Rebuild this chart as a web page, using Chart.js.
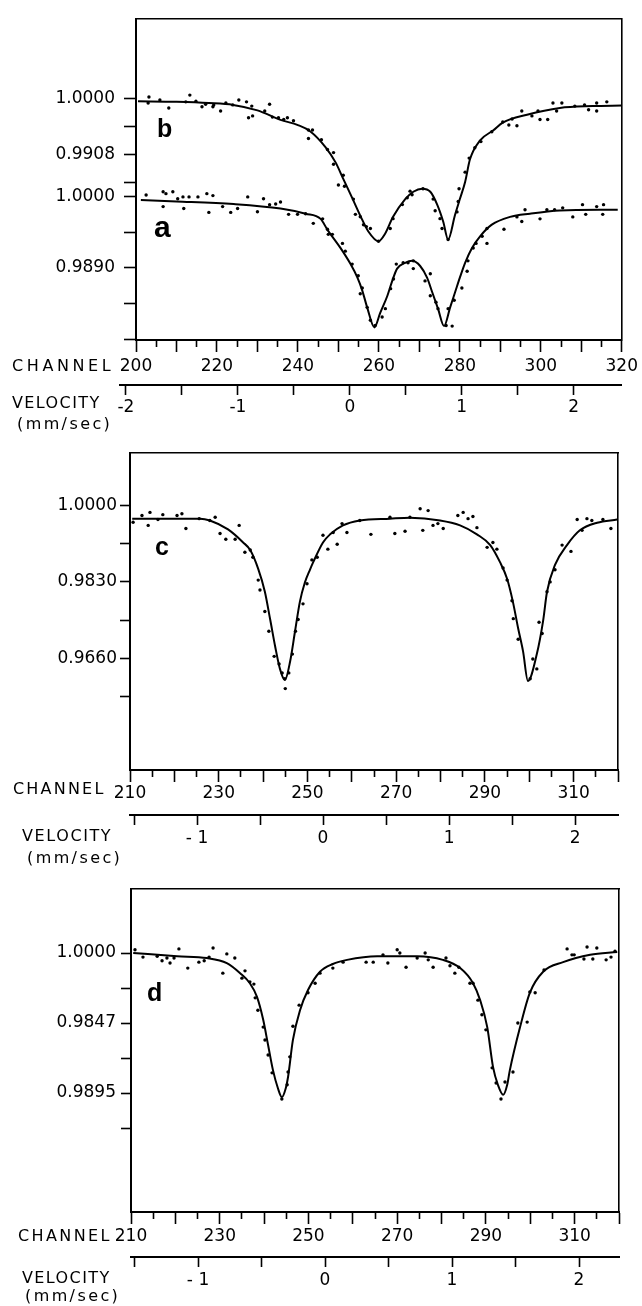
<!DOCTYPE html>
<html>
<head>
<meta charset="utf-8">
<title>Mossbauer spectra a-d</title>
<script src="https://cdn.jsdelivr.net/npm/chart.js@4.4.1/dist/chart.umd.min.js"></script>
<style>
  body { margin: 0; background: #fff; }
  #page { position: relative; width: 642px; height: 1306px; overflow: hidden; font-family: "DejaVu Sans", sans-serif; color: #000; }
  canvas { position: absolute; left: 0; }
  .axisname { position: absolute; font-size: 16px; line-height: 1; white-space: nowrap; transform: translateY(-50%); }
  .tag { position: absolute; font-family: "Liberation Sans", Arial, sans-serif; font-weight: bold; line-height: 1; transform: translateY(-50%); }
</style>
</head>
<body>
<div id="page">
  <canvas id="chartAB" width="642" height="440" style="top:0"></canvas>
  <canvas id="chartC" width="642" height="425" style="top:440px"></canvas>
  <canvas id="chartD" width="642" height="436" style="top:870px"></canvas>

  <div class="tag" style="left:157px;top:128px;font-size:25px">b</div>
  <div class="tag" style="left:154px;top:227px;font-size:30px">a</div>
  <div class="tag" style="left:155px;top:546px;font-size:25px">c</div>
  <div class="tag" style="left:147px;top:992px;font-size:25px">d</div>

  <div class="axisname" style="left:12px;top:366px;letter-spacing:3.6px">CHANNEL</div>
  <div class="axisname" style="left:12px;top:403px;letter-spacing:1.4px">VELOCITY</div>
  <div class="axisname" style="left:17px;top:424px;letter-spacing:2.4px">(mm/sec)</div>

  <div class="axisname" style="left:13px;top:789px;letter-spacing:2.2px">CHANNEL</div>
  <div class="axisname" style="left:22px;top:836px;letter-spacing:1.6px">VELOCITY</div>
  <div class="axisname" style="left:27px;top:858px;letter-spacing:2.4px">(mm/sec)</div>

  <div class="axisname" style="left:18px;top:1236px;letter-spacing:2.4px">CHANNEL</div>
  <div class="axisname" style="left:22px;top:1278px;letter-spacing:1.4px">VELOCITY</div>
  <div class="axisname" style="left:25px;top:1296px;letter-spacing:2.4px">(mm/sec)</div>
</div>

<script>
// ---- Panel a / b (top) ----
const abChannelLabels = [200, 220, 240, 260, 280, 300, 320];
const abVelocityTicks = [-2, -1.5, -1, -0.5, 0, 0.5, 1, 1.5, 2];
const abVelocityLabelAt = [-2, -1, 0, 1, 2];
const abVelocityLabels = ['-2', '-1', '0', '1', '2'];

const aTickValues = [1.0, 0.9945, 0.989, 0.9835, 0.978];
const aTickLabels = ['1.0000', '', '0.9890', '', ''];
const bTickValues = [1.0, 0.9954, 0.9908, 0.9862];
const bTickLabels = ['1.0000', '', '0.9908', ''];

const bFitChannel = [200.5, 210, 218, 224, 230, 235.7, 240, 243, 246.8, 249.3, 251.2, 253.4, 255.4, 257.4, 259.9, 261.5, 263.5, 266.5, 268.5, 270.7, 272.7, 274.4, 275.9, 277.1, 278.8, 280, 281.3, 282.5, 285, 288.2, 290.6, 296.6, 304.7, 312.8, 320];
const bFitValue = [0.9995, 0.9994, 0.9992, 0.9989, 0.9980, 0.99645, 0.9956, 0.9946, 0.9920, 0.9895, 0.9868, 0.9837, 0.9808, 0.9782, 0.9766, 0.9778, 0.9806, 0.9835, 0.9847, 0.9852, 0.9847, 0.9826, 0.9798, 0.9769, 0.9809, 0.9835, 0.9863, 0.9900, 0.9931, 0.9947, 0.9960, 0.9973, 0.9984, 0.9987, 0.9988];
const bDotChannel = [203.0, 203.2, 205.9, 208.1, 212.3, 213.3, 214.8, 216.3, 217.2, 219.0, 219.2, 220.9, 222.2, 223.9, 225.4, 227.3, 227.8, 228.6, 228.8, 231.8, 233.0, 233.7, 235.2, 236.5, 237.4, 238.9, 242.6, 242.6, 243.6, 245.8, 247.3, 248.8, 248.8, 250.0, 251.2, 251.5, 253.7, 254.2, 255.4, 256.2, 256.9, 257.9, 259.9, 262.8, 263.5, 265.8, 267.0, 267.7, 268.2, 270.9, 273.4, 273.9, 275.1, 275.6, 277.1, 279.3, 279.6, 279.8, 281.3, 282.3, 283.7, 285.2, 287.9, 290.6, 292.1, 292.9, 294.1, 295.3, 297.8, 299.3, 299.8, 301.7, 303.0, 303.9, 305.2, 308.4, 310.8, 311.8, 313.8, 313.8, 316.3];
const bDotValue = [0.9992, 1.0002, 0.9997, 0.9984, 0.9994, 1.0005, 0.9995, 0.9986, 0.9990, 0.9986, 0.9989, 0.9979, 0.9992, 0.9989, 0.9997, 0.9994, 0.9968, 0.9987, 0.9971, 0.9979, 0.9990, 0.9969, 0.9968, 0.9965, 0.9968, 0.9963, 0.9948, 0.9934, 0.9948, 0.9932, 0.9916, 0.9911, 0.9892, 0.9858, 0.9874, 0.9856, 0.9835, 0.9810, 0.9806, 0.9793, 0.9790, 0.9787, 0.9766, 0.9787, 0.9803, 0.9826, 0.9837, 0.9848, 0.9842, 0.9852, 0.9835, 0.9816, 0.9803, 0.9787, 0.9769, 0.9814, 0.9831, 0.9852, 0.9879, 0.9902, 0.9919, 0.9929, 0.9945, 0.9961, 0.9956, 0.9966, 0.9955, 0.9979, 0.9971, 0.9979, 0.9965, 0.9965, 0.9992, 0.9979, 0.9992, 0.9987, 0.9989, 0.9981, 0.9979, 0.9992, 0.9994];

const aFitChannel = [201.2, 210, 224.1, 235.7, 241.9, 245.6, 247.3, 250.5, 253.0, 254.7, 255.9, 257.1, 258.9, 260.3, 262.1, 263.3, 264.5, 266.5, 268.2, 270.2, 271.9, 273.2, 274.6, 276.1, 277.6, 278.8, 280.0, 281.3, 283.0, 285.0, 287.9, 292.4, 297.3, 304.7, 314.5, 319];
const aFitValue = [0.9995, 0.9993, 0.9989, 0.9982, 0.9974, 0.9966, 0.9949, 0.9921, 0.9896, 0.9875, 0.9855, 0.9829, 0.9798, 0.9820, 0.9847, 0.9870, 0.9889, 0.9898, 0.9901, 0.9893, 0.9875, 0.9852, 0.9827, 0.9800, 0.9829, 0.9852, 0.9875, 0.9898, 0.9921, 0.9939, 0.9957, 0.9969, 0.9974, 0.9979, 0.9980, 0.9980];
const aDotChannel = [202.5, 206.7, 206.7, 207.4, 209.1, 210.3, 211.6, 211.8, 213.1, 215.3, 217.5, 218.0, 219.0, 221.4, 223.4, 225.1, 227.6, 230.0, 231.5, 233.0, 234.5, 235.7, 237.7, 239.9, 241.9, 243.8, 246.1, 247.3, 247.5, 248.5, 251.0, 251.7, 253.4, 254.9, 255.4, 255.9, 257.1, 257.9, 259.1, 260.8, 261.6, 262.9, 263.6, 264.3, 266.0, 267.2, 268.5, 268.5, 271.4, 272.7, 272.7, 274.1, 274.6, 276.6, 277.1, 278.1, 278.6, 280.5, 281.8, 282.0, 283.3, 284.0, 285.5, 286.7, 286.7, 290.9, 294.1, 295.3, 296.1, 299.8, 301.5, 303.4, 305.4, 307.9, 310.3, 311.1, 313.8, 315.3, 315.5];
const aDotValue = [1.0003, 1.0008, 0.9985, 1.0005, 1.0008, 0.9997, 1.0000, 0.9982, 1.0000, 1.0000, 1.0005, 0.9976, 1.0002, 0.9985, 0.9976, 0.9982, 1.0000, 0.9977, 0.9997, 0.9988, 0.9989, 0.9992, 0.9973, 0.9973, 0.9974, 0.9959, 0.9966, 0.9950, 0.9942, 0.9942, 0.9928, 0.9916, 0.9896, 0.9878, 0.9850, 0.9859, 0.9829, 0.9809, 0.9801, 0.9814, 0.9827, 0.9858, 0.9873, 0.9896, 0.9898, 0.9898, 0.9901, 0.9889, 0.9870, 0.9881, 0.9847, 0.9837, 0.9827, 0.9801, 0.9827, 0.9800, 0.9840, 0.9859, 0.9885, 0.9901, 0.9921, 0.9928, 0.9939, 0.9951, 0.9928, 0.9950, 0.9969, 0.9962, 0.9980, 0.9966, 0.9980, 0.9980, 0.9983, 0.9969, 0.9988, 0.9973, 0.9985, 0.9973, 0.9988];

// ---- Panels c and d ----
const cdChannelLabels = [210, 230, 250, 270, 290, 310];
const cdVelocityTicks = [-1.5, -1, -0.5, 0, 0.5, 1, 1.5, 2];
const cdVelocityLabelAt = [-1, 0, 1, 2];
const cdVelocityLabels = ['- 1', '0', '1', '2'];

const cTickValues = [1.0, 0.9915, 0.983, 0.9745, 0.966, 0.9575];
const cTickLabels = ['1.0000', '', '0.9830', '', '0.9660', ''];
const dTickValues = [1.0, 0.99235, 0.9847, 0.97705, 0.9694, 0.96175];
const dTickLabels = ['1.0000', '', '0.9847', '', '0.9895', ''];

const cFitChannel = [210.5, 225.8, 228.0, 232.1, 235.5, 237.1, 238.9, 240.4, 241.6, 242.7, 243.8, 244.9, 246.1, 247.2, 248.3, 249.4, 250.6, 251.3, 253.5, 255.1, 258.0, 261.8, 268.6, 273.1, 279.9, 284.4, 288.2, 291.2, 293.4, 295.0, 296.3, 297.5, 298.6, 299.7, 301.7, 303.1, 304.0, 305.8, 308.5, 311.4, 315.3, 319.8];
const cFitValue = [0.9971, 0.9971, 0.9967, 0.9947, 0.9918, 0.9901, 0.9859, 0.9808, 0.9746, 0.9687, 0.9636, 0.9611, 0.9653, 0.9720, 0.9786, 0.9828, 0.9858, 0.9874, 0.9918, 0.9936, 0.9956, 0.9967, 0.9971, 0.9973, 0.9967, 0.9956, 0.9936, 0.9912, 0.9874, 0.9837, 0.9786, 0.9726, 0.9675, 0.9609, 0.9669, 0.9742, 0.9808, 0.9868, 0.9912, 0.9945, 0.9962, 0.9969];
const cDotChannel = [210.7, 212.7, 214.1, 214.5, 216.3, 217.4, 220.6, 221.7, 222.6, 225.6, 228.0, 229.2, 230.3, 231.6, 233.7, 234.6, 235.9, 237.1, 237.7, 238.9, 239.3, 240.4, 241.3, 242.5, 243.6, 244.3, 244.9, 245.0, 245.8, 246.6, 247.3, 247.9, 249.0, 249.9, 251.0, 252.2, 253.5, 254.6, 255.8, 256.7, 257.8, 258.9, 261.8, 264.3, 268.6, 269.7, 272.0, 273.1, 275.4, 276.0, 277.2, 278.3, 279.4, 280.6, 283.9, 285.1, 286.2, 287.3, 288.2, 290.5, 291.8, 292.7, 294.1, 295.0, 296.1, 296.4, 297.5, 300.2, 300.8, 301.7, 302.2, 302.9, 304.0, 304.7, 305.8, 307.4, 309.4, 310.8, 311.9, 313.0, 314.1, 316.6, 318.4];
const cDotValue = [0.9963, 0.9978, 0.9956, 0.9985, 0.9969, 0.9980, 0.9978, 0.9982, 0.9949, 0.9971, 0.9967, 0.9974, 0.9938, 0.9925, 0.9925, 0.9956, 0.9896, 0.9901, 0.9885, 0.9834, 0.9812, 0.9764, 0.9720, 0.9664, 0.9647, 0.9627, 0.9614, 0.9592, 0.9627, 0.9669, 0.9720, 0.9746, 0.9781, 0.9826, 0.9879, 0.9885, 0.9934, 0.9903, 0.9940, 0.9914, 0.9960, 0.9940, 0.9967, 0.9936, 0.9974, 0.9938, 0.9943, 0.9974, 0.9993, 0.9945, 0.9989, 0.9956, 0.9960, 0.9949, 0.9978, 0.9985, 0.9971, 0.9976, 0.9951, 0.9907, 0.9918, 0.9903, 0.9861, 0.9834, 0.9788, 0.9748, 0.9702, 0.9614, 0.9658, 0.9636, 0.9740, 0.9715, 0.9808, 0.9830, 0.9857, 0.9912, 0.9898, 0.9969, 0.9945, 0.9971, 0.9967, 0.9969, 0.9949];

const dFitChannel = [210.5, 220.4, 227.1, 231.6, 234.6, 236.8, 238.4, 239.8, 240.9, 242.0, 243.1, 244.0, 244.9, 245.4, 246.5, 248.1, 249.9, 252.6, 255.5, 258.7, 265.5, 274.5, 280.3, 284.2, 287.1, 288.7, 290.3, 291.6, 292.7, 293.9, 294.8, 295.4, 297.7, 299.9, 302.9, 307.4, 313.5, 319.6];
const dFitValue = [1.0000, 0.9993, 0.9989, 0.9978, 0.9956, 0.9934, 0.9904, 0.9854, 0.9799, 0.9744, 0.9705, 0.9685, 0.9705, 0.9729, 0.9810, 0.9875, 0.9919, 0.9959, 0.9976, 0.9985, 0.9993, 0.9993, 0.9985, 0.9967, 0.9934, 0.9897, 0.9838, 0.9751, 0.9712, 0.9690, 0.9712, 0.9744, 0.9838, 0.9913, 0.9959, 0.9980, 0.9996, 1.0002];
const dDotChannel = [210.9, 212.7, 215.9, 217.0, 218.1, 218.8, 219.7, 220.8, 222.8, 225.3, 226.5, 227.6, 228.5, 230.7, 231.6, 233.4, 235.0, 235.7, 236.8, 237.7, 238.0, 238.6, 239.8, 240.2, 240.9, 241.8, 244.0, 245.2, 245.4, 245.8, 246.5, 247.9, 249.9, 251.5, 252.6, 255.5, 257.8, 263.0, 264.6, 266.8, 267.9, 270.0, 270.6, 272.0, 274.5, 276.3, 277.0, 278.1, 281.0, 281.9, 283.0, 283.9, 286.4, 287.1, 288.2, 289.1, 290.0, 291.4, 292.3, 293.4, 294.3, 296.1, 297.2, 299.3, 299.9, 301.1, 303.1, 308.3, 309.4, 309.9, 312.1, 312.8, 314.1, 315.0, 317.1, 318.2, 319.1];
const dDotValue = [1.0007, 0.9991, 0.9993, 0.9983, 0.9989, 0.9978, 0.9989, 1.0009, 0.9967, 0.9980, 0.9983, 0.9991, 1.0011, 0.9956, 0.9998, 0.9989, 0.9945, 0.9961, 0.9937, 0.9932, 0.9902, 0.9875, 0.9838, 0.9810, 0.9777, 0.9738, 0.9681, 0.9712, 0.9740, 0.9773, 0.9840, 0.9886, 0.9913, 0.9934, 0.9956, 0.9967, 0.9980, 0.9980, 0.9980, 0.9996, 0.9978, 1.0007, 1.0000, 0.9969, 0.9989, 1.0000, 0.9985, 0.9969, 0.9989, 0.9972, 0.9956, 0.9969, 0.9934, 0.9934, 0.9897, 0.9865, 0.9832, 0.9749, 0.9716, 0.9681, 0.9718, 0.9740, 0.9847, 0.9849, 0.9915, 0.9913, 0.9963, 1.0009, 0.9996, 0.9996, 0.9987, 1.0013, 0.9987, 1.0011, 0.9985, 0.9991, 1.0004];

// Axis ranges (a on the visible axis, b on a hidden one sharing the same plot)
const A_RANGE = [0.97785, 1.0275];
const B_RANGE = [0.96046, 1.01291];

const black = '#000';
const tickFont = { family: 'DejaVu Sans', size: 17 };

function pts(ch, val) {
    return ch.map((c, i) => ({ x: c, y: val[i] }));
}

function dotSet(ch, val, axis) {
    return { type: 'scatter', data: pts(ch, val), yAxisID: axis, pointRadius: 1.7,
             pointBackgroundColor: black, pointBorderWidth: 0, showLine: false };
}

function fitSet(ch, val, axis) {
    return { type: 'line', data: pts(ch, val), yAxisID: axis, borderColor: black, borderWidth: 2,
             pointRadius: 0, cubicInterpolationMode: 'monotone', fill: false };
}

function tickList(vals, labels) {
    return vals.map((v, i) => ({ value: v, lbl: labels[i] }));
}

// b tick values expressed on the a axis
function bToA(v) {
    return A_RANGE[0] + (v - B_RANGE[0]) * (A_RANGE[1] - A_RANGE[0]) / (B_RANGE[1] - B_RANGE[0]);
}

// lets the velocity axis line start a bit left of the frame (panel a/b only)
const stretchVelocity = {
    id: 'stretchVelocity',
    afterLayout(chart, args, opts) {
        if (!opts.left) return;
        const s = chart.scales.vel;
        s.left -= opts.left;
        s.width += opts.left;
        s.configure();
    }
};

function drawPanel(canvasId, p) {
    const scales = {
        x: {
            type: 'linear', position: 'bottom', weight: 0, min: p.chMin, max: p.chMax,
            afterFit: s => { s.height = p.chHeight; },
            ticks: { stepSize: 5, autoSkip: false, maxRotation: 0, padding: p.chPad, color: black, font: tickFont,
                     callback: v => p.chLabels.includes(v) ? String(v) : '' },
            grid: { drawOnChartArea: false, tickLength: 12, tickWidth: 1.6, tickColor: black,
                    tickBorderDash: c => (c.tick && c.tick.value % 10 !== 0) ? [6, 30] : [] },
            border: { color: black, width: 2 }
        },
        vel: {
            type: 'linear', position: 'bottom', weight: 1, min: p.velMin, max: p.velMax,
            afterFit: s => { s.height = p.velHeight; },
            afterBuildTicks: s => { s.ticks = p.velTicks.map(v => ({ value: v })); },
            ticks: { autoSkip: false, maxRotation: 0, padding: p.velPad, color: black, font: tickFont,
                     callback: v => { const k = p.velLabelAt.indexOf(v); return k < 0 ? '' : p.velLabels[k]; } },
            grid: { drawOnChartArea: false, tickLength: 10, tickWidth: 1.6, tickColor: black },
            border: { color: black, width: 2 }
        },
        xTop: {
            type: 'linear', position: 'top', min: p.chMin, max: p.chMax,
            afterFit: s => { s.height = 0; },
            ticks: { display: false },
            grid: { drawOnChartArea: false, drawTicks: false },
            border: { color: black, width: 1.6 }
        },
        y: {
            type: 'linear', position: 'left', min: p.yMin, max: p.yMax,
            afterFit: s => { s.width = p.yWidth; },
            afterBuildTicks: s => { s.ticks = p.yTicks.slice().sort((m, n) => m.value - n.value).map(t => ({ value: t.value, lbl: t.lbl })); },
            ticks: { autoSkip: false, padding: p.yPad, color: black, font: tickFont,
                     callback: (v, i, ticks) => ticks[i].lbl },
            grid: { drawOnChartArea: false, tickLength: p.yTick, tickWidth: 1.6, tickColor: black },
            border: { color: black, width: 2 }
        },
        yRight: {
            type: 'linear', position: 'right', min: p.yMin, max: p.yMax,
            afterFit: s => { s.width = 0; },
            ticks: { display: false },
            grid: { drawOnChartArea: false, drawTicks: false },
            border: { color: black, width: 1.6 }
        }
    };
    if (p.yb) {
        scales.yb = { type: 'linear', display: false, min: p.yb[0], max: p.yb[1] };
    }

    return new Chart(document.getElementById(canvasId), {
        type: 'scatter',
        data: { datasets: p.datasets },
        options: {
            responsive: false,
            animation: false,
            events: [],
            layout: { padding: { top: p.padTop, right: p.padRight, left: 0, bottom: 0 } },
            plugins: {
                legend: { display: false },
                tooltip: { enabled: false },
                stretchVelocity: { left: p.velExtend || 0 }
            },
            scales: scales
        },
        plugins: [stretchVelocity]
    });
}

Chart.defaults.font.family = 'DejaVu Sans';
Chart.defaults.color = black;

// Panel a / b
drawPanel('chartAB', {
    chMin: 200, chMax: 320, chLabels: abChannelLabels, chHeight: 45, chPad: 4,
    velMin: -2.053, velMax: 2.43, velTicks: abVelocityTicks, velLabelAt: abVelocityLabelAt,
    velLabels: abVelocityLabels, velHeight: 55, velPad: 2, velExtend: 16,
    yMin: A_RANGE[0], yMax: A_RANGE[1], yb: B_RANGE, yWidth: 136, yPad: 9, yTick: 12,
    yTicks: tickList(aTickValues, aTickLabels).concat(bTickValues.map((v, i) => ({ value: bToA(v), lbl: bTickLabels[i] }))),
    padTop: 15, padRight: 19,
    datasets: [
        fitSet(bFitChannel, bFitValue, 'yb'),
        dotSet(bDotChannel, bDotValue, 'yb'),
        fitSet(aFitChannel, aFitValue, 'y'),
        dotSet(aDotChannel, aDotValue, 'y')
    ]
});

// Panel c
drawPanel('chartC', {
    chMin: 210, chMax: 320, chLabels: cdChannelLabels, chHeight: 45, chPad: 1,
    velMin: -1.532, velMax: 2.341, velTicks: cdVelocityTicks, velLabelAt: cdVelocityLabelAt,
    velLabels: cdVelocityLabels, velHeight: 50, velPad: 3,
    yMin: 0.94105, yMax: 1.0117, yWidth: 130, yPad: 3, yTick: 10,
    yTicks: tickList(cTickValues, cTickLabels),
    padTop: 10, padRight: 24,
    datasets: [
        fitSet(cFitChannel, cFitValue, 'y'),
        dotSet(cDotChannel, cDotValue, 'y')
    ]
});

// Panel d
drawPanel('chartD', {
    chMin: 210, chMax: 320, chLabels: cdChannelLabels, chHeight: 45, chPad: 2,
    velMin: -1.528, velMax: 2.315, velTicks: cdVelocityTicks, velLabelAt: cdVelocityLabelAt,
    velLabels: cdVelocityLabels, velHeight: 49, velPad: 3,
    yMin: 0.94339, yMax: 1.01399, yWidth: 131, yPad: 5, yTick: 10,
    yTicks: tickList(dTickValues, dTickLabels),
    padTop: 19, padRight: 23,
    datasets: [
        fitSet(dFitChannel, dFitValue, 'y'),
        dotSet(dDotChannel, dDotValue, 'y')
    ]
});
</script>
</body>
</html>
